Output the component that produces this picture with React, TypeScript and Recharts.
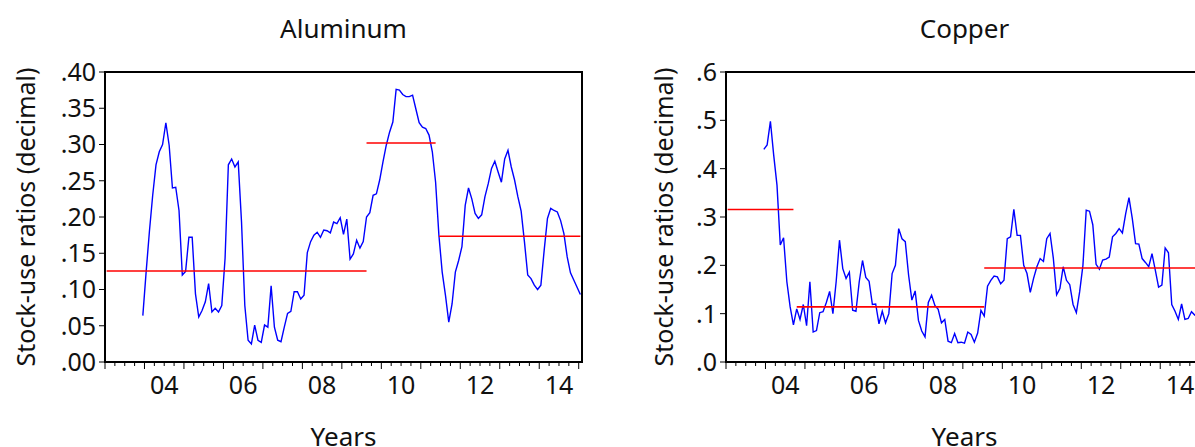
import React from 'react';
import { LineChart, Line, XAxis, YAxis, ReferenceLine, ReferenceArea } from 'recharts';

// Month index k counts months from Jan 2003 (k = 0). Series start in Dec 2003 (k = 11).
const FIRST_YEAR = 2003;
const SERIES_START = 11;
const DOMAIN_MIN = -0.5;
const DOMAIN_MAX = 144.5;

const labelYears = [2004, 2006, 2008, 2010, 2012, 2014];
const yearLabels = ['04', '06', '08', '10', '12', '14'];

const aluminum = [
  0.064, 0.124, 0.18, 0.23, 0.272, 0.29, 0.30, 0.33, 0.299, 0.24,
  0.241, 0.209, 0.12, 0.125, 0.172, 0.172, 0.094, 0.062, 0.071, 0.083,
  0.108, 0.069, 0.074, 0.069, 0.078, 0.143, 0.272, 0.28, 0.269, 0.276,
  0.193, 0.078, 0.03, 0.025, 0.051, 0.03, 0.027, 0.051, 0.048, 0.105,
  0.048, 0.03, 0.028, 0.048, 0.067, 0.07, 0.097, 0.097, 0.087, 0.092,
  0.151, 0.166, 0.175, 0.179, 0.172, 0.182, 0.181, 0.178, 0.193, 0.191,
  0.199, 0.176, 0.197, 0.142, 0.149, 0.168, 0.157, 0.166, 0.20, 0.206,
  0.23, 0.232, 0.251, 0.276, 0.299, 0.317, 0.331, 0.376, 0.375, 0.369,
  0.366, 0.366, 0.368, 0.349, 0.33, 0.324, 0.322, 0.313, 0.29, 0.248,
  0.175, 0.124, 0.092, 0.055, 0.08, 0.124, 0.14, 0.159, 0.216, 0.24,
  0.225, 0.205, 0.198, 0.203, 0.228, 0.246, 0.267, 0.277, 0.262, 0.248,
  0.28, 0.292, 0.269, 0.251, 0.228, 0.208, 0.166, 0.12, 0.115, 0.106,
  0.10, 0.106, 0.154, 0.198, 0.212, 0.209, 0.207, 0.195, 0.177, 0.145,
  0.123, 0.113, 0.103, 0.093,
];

const copper = [
  0.44, 0.449, 0.498, 0.428, 0.366, 0.242, 0.257, 0.166, 0.114, 0.077,
  0.11, 0.088, 0.119, 0.075, 0.166, 0.062, 0.065, 0.102, 0.104, 0.123,
  0.146, 0.10, 0.167, 0.252, 0.193, 0.173, 0.186, 0.107, 0.105, 0.166,
  0.21, 0.175, 0.167, 0.119, 0.12, 0.079, 0.105, 0.081, 0.10, 0.183,
  0.20, 0.276, 0.255, 0.249, 0.18, 0.128, 0.147, 0.086, 0.064, 0.052,
  0.123, 0.138, 0.117, 0.109, 0.081, 0.088, 0.043, 0.04, 0.059, 0.04,
  0.041, 0.039, 0.062, 0.057, 0.041, 0.06, 0.107, 0.095, 0.157, 0.169,
  0.178, 0.176, 0.162, 0.169, 0.255, 0.259, 0.316, 0.262, 0.262, 0.20,
  0.183, 0.144, 0.173, 0.197, 0.214, 0.208, 0.255, 0.266, 0.215, 0.139,
  0.152, 0.197, 0.169, 0.16, 0.119, 0.102, 0.145, 0.20, 0.314, 0.312,
  0.284, 0.202, 0.192, 0.211, 0.213, 0.217, 0.259, 0.266, 0.276, 0.267,
  0.307, 0.34, 0.297, 0.245, 0.244, 0.214, 0.206, 0.197, 0.224, 0.19,
  0.155, 0.159, 0.236, 0.226, 0.119, 0.105, 0.088, 0.12, 0.088, 0.09,
  0.104, 0.097, 0.10, 0.095,
];

// Regime means (red lines): start month, end month, mean
const alMeanStart = [0, 79, 101];
const alMeanEnd = [79, 100, 144];
const alMeanValue = [0.1255, 0.302, 0.1735];

const cuMeanStart = [0, 21, 78];
const cuMeanEnd = [20, 78, 144.5];
const cuMeanValue = [0.3155, 0.114, 0.1945];

const alYTicks = [0, 0.05, 0.1, 0.15, 0.2, 0.25, 0.3, 0.35, 0.4];
const alYLabels = ['.00', '.05', '.10', '.15', '.20', '.25', '.30', '.35', '.40'];
const cuYTicks = [0, 0.1, 0.2, 0.3, 0.4, 0.5, 0.6];
const cuYLabels = ['.0', '.1', '.2', '.3', '.4', '.5', '.6'];

const quarterTicks: number[] = [];
for (let q = 0; q <= 48; q++) quarterTicks.push(q * 3 - 0.5);

const FONT = "'Noto Sans', sans-serif";

const XTick = (props: any) => {
  const { x, y, payload } = props;
  const m = Math.round(payload.value + 0.5);
  const isYear = m % 12 === 0;
  const year = FIRST_YEAR + Math.floor(m / 12);
  const idx = m % 12 === 6 ? labelYears.indexOf(year) : -1;
  return (
    <g>
      <line x1={x} x2={x} y1={y} y2={y + (isYear ? 7 : 4)} stroke="#000" strokeWidth={1} />
      {idx >= 0 && (
        <text x={x} y={y + 32} textAnchor="middle" fontSize={25} fill="#111" fontFamily={FONT}>
          {yearLabels[idx]}
        </text>
      )}
    </g>
  );
};

type PanelProps = {
  title: string;
  values: number[];
  yTicks: number[];
  yLabels: string[];
  meanStart: number[];
  meanEnd: number[];
  meanValue: number[];
  left: number;
  yTitleX: number;
};

const W = 600;
const H = 447;
const PLOT_LEFT = 105;
const PLOT_RIGHT = 582;
const PLOT_TOP = 72;
const PLOT_BOTTOM = 362;

const Panel = ({ title, values, yTicks, yLabels, meanStart, meanEnd, meanValue, left, yTitleX }: PanelProps) => {
  const data = values.map((v, i) => ({ k: SERIES_START + i, v }));
  const yMax = yTicks[yTicks.length - 1];
  const cx = (PLOT_LEFT + PLOT_RIGHT) / 2;
  const cy = (PLOT_TOP + PLOT_BOTTOM) / 2;
  return (
    <div style={{ position: 'absolute', left, top: 0, width: W, height: H }}>
      <LineChart
        width={W}
        height={H}
        data={data}
        margin={{ top: PLOT_TOP, right: W - PLOT_RIGHT, bottom: 0, left: 0 }}
      >
        <XAxis
          dataKey="k"
          type="number"
          domain={[DOMAIN_MIN, DOMAIN_MAX]}
          ticks={quarterTicks}
          interval={0}
          height={H - PLOT_BOTTOM}
          tickSize={0}
          tickMargin={0}
          tickLine={false}
          axisLine={{ stroke: '#000', strokeWidth: 2 }}
          tick={<XTick />}
          allowDataOverflow
        />
        <YAxis
          type="number"
          domain={[0, yMax]}
          ticks={yTicks}
          interval={0}
          width={PLOT_LEFT}
          tickSize={6}
          tickMargin={3}
          tickLine={{ stroke: '#000', strokeWidth: 1 }}
          axisLine={{ stroke: '#000', strokeWidth: 2 }}
          tick={{ fontSize: 25, fill: '#111', fontFamily: FONT }}
          tickFormatter={(v: number) => {
            const i = yTicks.findIndex((t) => Math.abs(t - v) < 1e-9);
            return i >= 0 ? yLabels[i] : '';
          }}
          allowDataOverflow
        />
        <ReferenceArea
          x1={DOMAIN_MIN}
          x2={DOMAIN_MAX}
          y1={0}
          y2={yMax}
          fill="none"
          fillOpacity={0}
          stroke="#000"
          strokeWidth={2}
        />
        <Line
          type="linear"
          dataKey="v"
          stroke="#0000FF"
          strokeWidth={1.4}
          dot={false}
          activeDot={false}
          isAnimationActive={false}
        />
        {meanValue.map((m, i) => (
          <ReferenceLine
            key={i}
            segment={[
              { x: meanStart[i], y: m },
              { x: meanEnd[i], y: m },
            ]}
            stroke="#FF0000"
            strokeWidth={1.6}
          />
        ))}
      </LineChart>
      <svg
        width={W}
        height={H}
        style={{ position: 'absolute', left: 0, top: 0, pointerEvents: 'none' }}
      >
        <text x={cx} y={38} textAnchor="middle" fontSize={26} fill="#111" fontFamily={FONT}>
          {title}
        </text>
        <text x={cx} y={446} textAnchor="middle" fontSize={26} fill="#111" fontFamily={FONT}>
          Years
        </text>
        <text
          x={yTitleX}
          y={cy}
          textAnchor="middle"
          fontSize={25}
          fill="#111"
          fontFamily={FONT}
          transform={`rotate(-90, ${yTitleX}, ${cy})`}
        >
          Stock-use ratios (decimal)
        </text>
      </svg>
    </div>
  );
};

export default function App() {
  return (
    <div
      style={{
        position: 'absolute',
        left: 0,
        top: 0,
        width: 1195,
        height: 447,
        overflow: 'hidden',
        background: '#fff',
        fontFamily: FONT,
      }}
    >
      <Panel
        title="Aluminum"
        values={aluminum}
        yTicks={alYTicks}
        yLabels={alYLabels}
        meanStart={alMeanStart}
        meanEnd={alMeanEnd}
        meanValue={alMeanValue}
        left={0}
        yTitleX={35}
      />
      <Panel
        title="Copper"
        values={copper}
        yTicks={cuYTicks}
        yLabels={cuYLabels}
        meanStart={cuMeanStart}
        meanEnd={cuMeanEnd}
        meanValue={cuMeanValue}
        left={621}
        yTitleX={52}
      />
    </div>
  );
}
